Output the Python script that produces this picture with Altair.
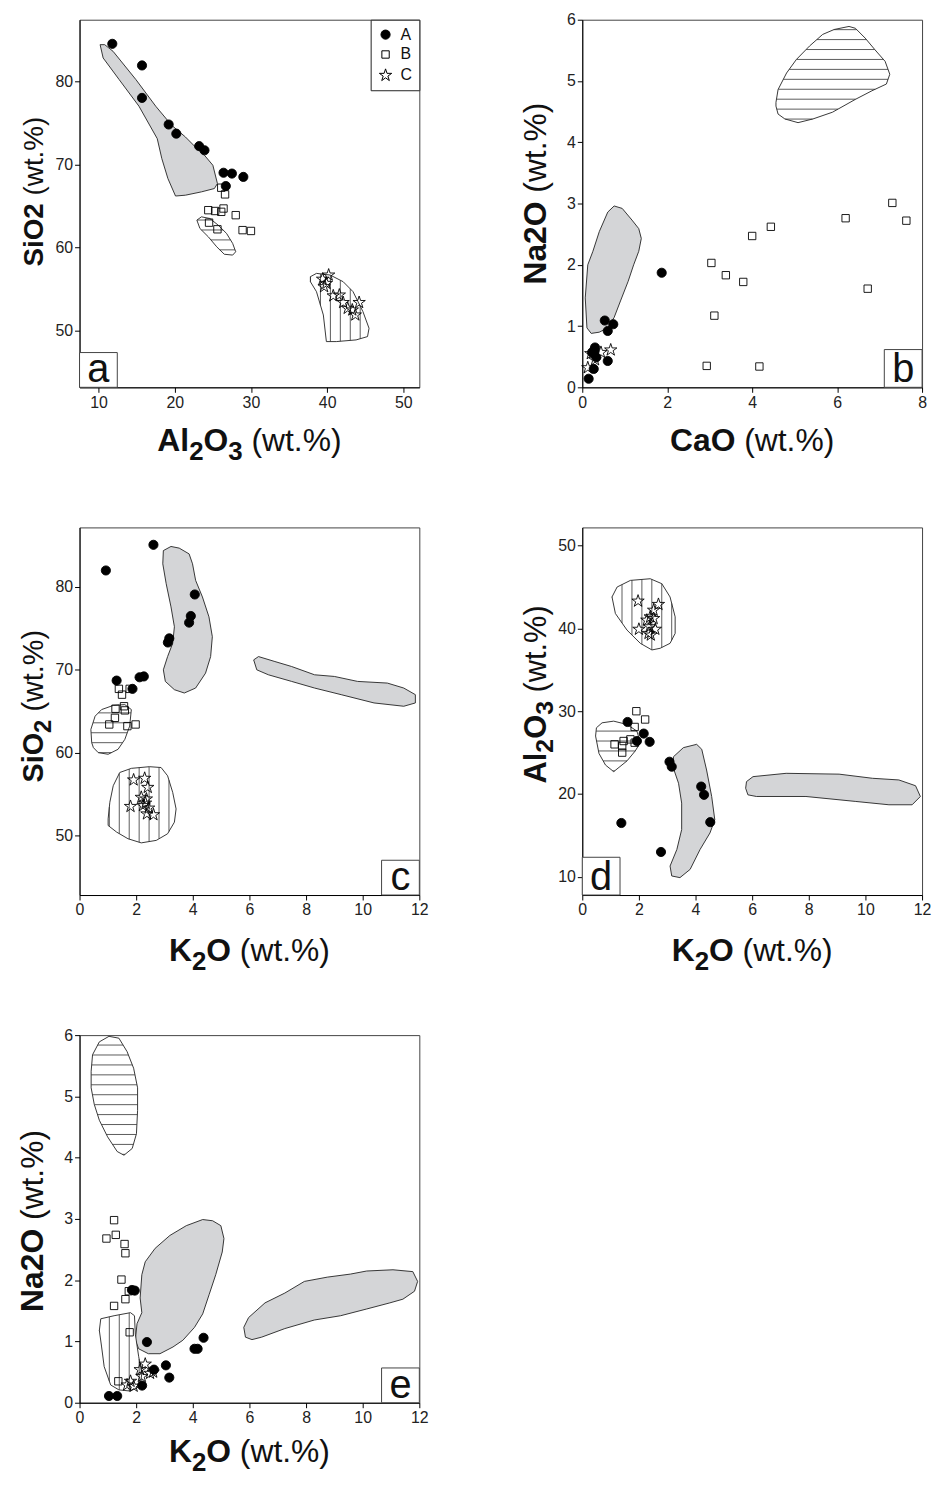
import math
import altair as alt
import pandas as pd

FONT = "Liberation Sans"
STAR = ("M0,-1L0.2245,-0.309L0.951,-0.309L0.363,0.118L0.588,0.809L0,0.382"
        "L-0.588,0.809L-0.363,0.118L-0.951,-0.309L-0.2245,-0.309Z")
GRAY = "#d4d5d7"
EDGE = "#222222"
W, H = 342, 370

# ---------------- panel a : Al2O3 vs SiO2 ----------------
a_A_x = [11.8, 15.7, 15.7, 19.2, 20.2, 23.2, 23.9, 26.4, 27.5, 29.0, 26.7]
a_A_y = [84.5, 81.9, 78.0, 74.8, 73.7, 72.2, 71.7, 69.0, 68.9, 68.5, 67.4]
a_B_x = [26.1, 26.6, 24.4, 25.3, 26.4, 26.1, 28.0, 24.5, 25.6, 28.9, 30.0]
a_B_y = [67.2, 66.4, 64.5, 64.4, 64.7, 64.3, 63.9, 63.0, 62.2, 62.1, 62.0]
a_C_x = [40.2, 39.4, 39.9, 39.6, 40.8, 41.6, 42.1, 42.7, 44.2, 43.7, 43.3]
a_C_y = [56.7, 56.2, 55.7, 55.3, 54.2, 54.3, 53.4, 52.7, 53.4, 51.9, 52.5]
a_gray_x = [10.2, 10.6, 12.7, 15.3, 17.7, 18.3, 19.1, 20.1, 21.4, 23.5, 25.2, 25.6, 25.0,
            23.9, 22.7, 21.4, 19.6, 17.5, 14.9, 11.9, 10.8]
a_gray_y = [84.4, 82.8, 80.2, 77.0, 73.1, 70.7, 68.3, 66.2, 66.3, 66.7, 67.1, 67.7, 69.9,
            71.1, 72.1, 73.3, 74.7, 77.0, 80.2, 83.6, 84.4]
a_hh_x = [22.9, 23.5, 24.6, 25.7, 26.8, 27.6, 28.0, 27.6, 26.5, 25.5, 24.4, 23.3]
a_hh_y = [63.3, 63.7, 63.5, 62.7, 61.7, 60.5, 59.5, 59.1, 59.2, 60.1, 61.3, 62.3]
a_vh_x = [37.8, 38.6, 40.4, 42.1, 43.4, 44.7, 45.5, 45.3, 43.8, 41.2, 39.9, 39.5, 38.6, 37.8]
a_vh_y = [56.5, 56.9, 56.7, 55.9, 54.7, 52.3, 50.3, 49.3, 48.9, 48.7, 48.7, 51.9, 54.7, 55.9]

# ---------------- panel b : CaO vs Na2O ----------------
b_A_x = [0.15, 0.27, 0.29, 0.33, 0.23, 0.30, 0.60, 0.53, 0.60, 0.73, 1.87]
b_A_y = [0.14, 0.30, 0.59, 0.49, 0.57, 0.65, 0.43, 1.09, 0.92, 1.03, 1.87]
b_B_x = [3.04, 3.38, 3.79, 3.11, 4.00, 4.44, 6.20, 7.30, 7.63, 6.72, 2.93, 4.17]
b_B_y = [2.03, 1.83, 1.72, 1.17, 2.47, 2.62, 2.76, 3.01, 2.72, 1.61, 0.35, 0.34]
b_C_x = [0.13, 0.20, 0.44, 0.67, 0.30]
b_C_y = [0.32, 0.55, 0.57, 0.61, 0.45]
b_gray_x = [0.21, 0.11, 0.07, 0.13, 0.25, 0.40, 0.60, 0.75, 0.94, 1.17, 1.33, 1.39, 1.33,
            1.21, 1.08, 0.90, 0.75, 0.60, 0.40]
b_gray_y = [0.88, 0.97, 1.46, 2.00, 2.22, 2.54, 2.86, 2.96, 2.92, 2.73, 2.59, 2.43, 2.22,
            2.00, 1.73, 1.41, 1.14, 0.97, 0.90]
b_hh_x = [4.56, 4.61, 4.81, 5.04, 5.35, 5.66, 5.93, 6.28, 6.43, 6.66, 6.89, 7.13, 7.24,
          7.16, 6.82, 6.43, 5.89, 5.43, 5.08, 4.77, 4.61, 4.56]
b_hh_y = [4.65, 4.86, 5.13, 5.35, 5.57, 5.76, 5.84, 5.89, 5.86, 5.70, 5.51, 5.32, 5.11,
          4.95, 4.84, 4.70, 4.49, 4.38, 4.32, 4.38, 4.46, 4.59]

# ---------------- panel c : K2O vs SiO2 ----------------
c_A_x = [2.61, 0.93, 4.07, 3.93, 3.87, 3.17, 3.12, 1.31, 2.12, 2.27, 1.87]
c_A_y = [85.1, 82.0, 79.1, 76.5, 75.7, 73.8, 73.3, 68.7, 69.1, 69.2, 67.7]
c_B_x = [1.39, 1.50, 1.77, 1.27, 1.57, 1.60, 1.25, 1.05, 1.69, 1.98]
c_B_y = [67.7, 67.0, 67.7, 65.3, 65.6, 65.1, 64.2, 63.4, 63.2, 63.4]
c_C_x = [1.91, 2.30, 2.41, 2.18, 2.36, 1.80, 2.24, 2.44, 2.38, 2.61, 2.33]
c_C_y = [56.7, 56.9, 55.8, 54.6, 54.4, 53.5, 53.6, 53.3, 52.6, 52.5, 53.9]
c_gray1_x = [2.96, 3.23, 3.52, 3.87, 3.99, 4.10, 4.34, 4.57, 4.69, 4.63, 4.45, 4.10, 3.70,
             3.35, 3.03, 2.96, 3.11, 3.29, 3.35, 3.23, 3.06, 2.94]
c_gray1_y = [84.4, 84.9, 84.7, 84.0, 82.8, 80.8, 78.8, 76.4, 74.0, 71.6, 69.6, 67.8, 67.2,
             67.6, 68.6, 70.0, 71.6, 73.2, 75.2, 77.6, 80.4, 82.8]
c_gray2_x = [6.15, 6.32, 6.90, 7.49, 8.30, 9.00, 9.82, 10.87, 11.45, 11.86, 11.86, 11.45,
             10.40, 9.24, 8.30, 7.49, 6.67, 6.26]
c_gray2_y = [71.2, 71.6, 71.0, 70.4, 69.4, 69.2, 68.6, 68.4, 67.8, 67.0, 66.0, 65.6,
             66.0, 67.0, 67.8, 68.6, 69.4, 70.0]
c_hh_x = [0.43, 0.40, 0.55, 0.78, 1.19, 1.60, 1.83, 1.77, 1.60, 1.36, 1.01, 0.66, 0.49]
c_hh_y = [61.2, 62.8, 64.4, 65.2, 65.7, 65.8, 65.2, 63.2, 61.6, 60.4, 59.8, 60.0, 60.6]
c_vh_x = [1.01, 1.07, 1.19, 1.42, 1.83, 2.47, 2.88, 3.11, 3.29, 3.41, 3.35, 3.11, 2.71,
          2.18, 1.71, 1.31, 1.01]
c_vh_y = [52.0, 54.0, 56.0, 57.6, 58.1, 58.3, 58.2, 57.2, 55.2, 53.2, 51.6, 50.2, 49.4,
          49.1, 49.6, 50.4, 51.2]

# ---------------- panel d : K2O vs Al2O3 ----------------
d_A_x = [1.60, 2.17, 1.93, 2.38, 3.08, 3.16, 4.20, 4.30, 4.52, 1.38, 2.78]
d_A_y = [28.7, 27.3, 26.4, 26.3, 23.9, 23.3, 20.9, 19.9, 16.6, 16.5, 13.0]
d_B_x = [1.91, 2.22, 1.85, 1.14, 1.46, 1.70, 1.85, 1.41, 1.41]
d_B_y = [30.0, 29.0, 28.1, 26.0, 26.4, 26.6, 26.2, 25.8, 25.0]
d_C_x = [1.97, 2.69, 2.52, 2.40, 2.28, 2.52, 2.38, 2.00, 2.34, 2.58, 2.42]
d_C_y = [43.3, 42.9, 42.2, 41.4, 41.0, 41.2, 40.2, 39.9, 39.4, 39.9, 39.2]
d_vh_x = [1.05, 1.23, 1.70, 2.40, 2.81, 3.10, 3.28, 3.28, 3.10, 2.75, 2.46, 2.05, 1.58, 1.17]
d_vh_y = [43.8, 45.0, 45.8, 46.0, 45.4, 43.8, 41.4, 39.4, 38.2, 37.6, 37.4, 38.2, 39.8, 41.8]
d_hh_x = [0.47, 0.50, 0.70, 1.11, 1.58, 1.93, 2.05, 1.87, 1.58, 1.11, 0.82, 0.59]
d_hh_y = [27.0, 28.0, 28.6, 28.8, 28.4, 27.6, 26.2, 25.2, 24.0, 22.7, 23.5, 24.9]
d_gray1_x = [3.22, 3.57, 4.04, 4.22, 4.39, 4.57, 4.68, 4.51, 4.16, 3.81, 3.45, 3.16, 3.10,
             3.34, 3.51, 3.51, 3.40, 3.22]
d_gray1_y = [24.5, 25.6, 26.0, 25.4, 22.9, 19.7, 16.9, 15.3, 13.3, 10.9, 9.9, 10.1, 11.3,
             13.3, 15.7, 18.9, 21.3, 23.1]
d_gray2_x = [5.80, 6.03, 7.20, 9.07, 10.25, 11.18, 11.77, 11.94, 11.65, 10.83, 9.66, 7.90,
             6.15, 5.85, 5.77]
d_gray2_y = [21.5, 22.1, 22.5, 22.4, 21.9, 21.7, 21.0, 19.7, 18.7, 18.7, 19.1, 19.7,
             19.7, 19.9, 20.7]

# ---------------- panel e : K2O vs Na2O ----------------
e_A_x = [1.85, 1.95, 2.38, 4.06, 4.17, 4.38, 3.05, 2.63, 3.17, 2.21, 1.04, 1.33]
e_A_y = [1.84, 1.83, 0.99, 0.88, 0.88, 1.06, 0.61, 0.54, 0.41, 0.28, 0.11, 0.11]
e_B_x = [1.22, 1.28, 0.95, 1.59, 1.62, 1.48, 1.74, 1.62, 1.22, 1.77, 1.37]
e_B_y = [2.98, 2.74, 2.68, 2.59, 2.44, 2.01, 1.82, 1.69, 1.58, 1.15, 0.35]
e_C_x = [2.32, 2.14, 2.49, 2.20, 1.80, 1.91, 1.68, 2.60]
e_C_y = [0.63, 0.54, 0.48, 0.43, 0.35, 0.27, 0.29, 0.50]
e_hh_x = [0.41, 0.46, 0.70, 1.04, 1.39, 1.68, 1.91, 2.05, 2.05, 2.01, 1.86, 1.57, 1.33,
          0.99, 0.70, 0.52, 0.41]
e_hh_y = [5.41, 5.68, 5.89, 5.98, 5.95, 5.73, 5.46, 5.14, 4.77, 4.39, 4.15, 4.04, 4.10,
          4.34, 4.61, 4.87, 5.14]
e_vh_x = [0.75, 1.22, 1.80, 1.94, 1.97, 2.09, 2.20, 2.14, 1.80, 1.39, 1.10, 0.87, 0.78, 0.70]
e_vh_y = [1.37, 1.42, 1.47, 1.42, 1.12, 0.75, 0.48, 0.27, 0.19, 0.21, 0.29, 0.59, 0.91, 1.18]
e_gray1_x = [1.97, 2.03, 2.20, 2.14, 2.20, 2.32, 2.67, 3.19, 3.77, 4.35, 4.70, 4.99, 5.10,
             5.04, 4.81, 4.58, 4.35, 4.06, 3.65, 3.30, 2.84, 2.43, 2.09]
e_gray1_y = [1.02, 1.29, 1.47, 1.71, 2.09, 2.30, 2.52, 2.73, 2.89, 2.99, 2.97, 2.89, 2.68,
             2.46, 2.09, 1.77, 1.45, 1.23, 1.02, 0.91, 0.80, 0.80, 0.88]
e_gray2_x = [5.86, 5.80, 5.97, 6.55, 7.25, 7.94, 8.75, 9.57, 10.14, 11.07, 11.77, 11.94,
             11.83, 11.42, 10.96, 10.14, 9.22, 8.29, 7.25, 6.43, 6.09]
e_gray2_y = [1.07, 1.23, 1.39, 1.63, 1.79, 1.98, 2.05, 2.10, 2.15, 2.17, 2.14, 1.98,
             1.82, 1.69, 1.63, 1.53, 1.42, 1.35, 1.21, 1.07, 1.03]

GROUPS = ["A", "B", "C"]

# ---------------- helpers ----------------
REG_W = {" ": 278, "(": 333, ")": 333, "w": 722, "t": 278, ".": 278, "%": 889}
BOLD_W = {"A": 722, "l": 278, "O": 778, "S": 667, "i": 278, "N": 722, "a": 556,
          "C": 722, "K": 722}


def text_width(txt, bold, size):
    table = BOLD_W if bold else REG_W
    return sum(table.get(ch, 556) for ch in txt) / 1000.0 * size


ONE = alt.Data(values=[{"k": 1}])


def title_layers(parts, x, y, angle, fs):
    # parts: (text, bold, subscript, gap-before in em)
    sub_fs, sub_dy = round(fs * 0.82), round(fs * 0.27)
    sizes = [sub_fs if p[2] else fs for p in parts]
    widths = [text_width(p[0], p[1], s) + p[3] * fs for p, s in zip(parts, sizes)]
    pos = -sum(widths) / 2.0
    out = []
    for p, s, w in zip(parts, sizes, widths):
        t, b, sub, gap = p
        kw = dict(text=t, font=FONT, fontSize=s, fontWeight="bold" if b else "normal",
                  align="left", baseline="alphabetic", dx=pos + gap * fs,
                  dy=sub_dy if sub else 0, color="#111111")
        if angle:
            kw["angle"] = angle
        out.append(alt.Chart(ONE).mark_text(**kw).encode(x=alt.value(x), y=alt.value(y)))
        pos += w
    return out


def hatch_rows(xs, ys, step, vertical):
    u, v = (xs, ys) if vertical else (ys, xs)
    n = len(u)
    rows = []
    k = math.floor(min(u) / step) + 1
    while k * step < max(u):
        c = k * step
        cuts = []
        for i in range(n):
            u1, v1, u2, v2 = u[i], v[i], u[(i + 1) % n], v[(i + 1) % n]
            if (u1 - c) * (u2 - c) < 0:
                cuts.append(v1 + (c - u1) * (v2 - v1) / (u2 - u1))
        cuts.sort()
        for j in range(0, len(cuts) - 1, 2):
            if vertical:
                rows.append({"x": c, "x2": c, "y": cuts[j], "y2": cuts[j + 1]})
            else:
                rows.append({"x": cuts[j], "x2": cuts[j + 1], "y": c, "y2": c})
        k += 1
    return rows


AX = dict(title=None, grid=False, tickSize=5, tickColor="black", domainColor="black",
          domainWidth=1, tickWidth=1, labelFont=FONT, labelFontSize=16, labelColor="#222222",
          labelPadding=2, format="d", labelFlush=False)


def panel(xdom, ydom, xticks, yticks, pts, grays, hh, vh, letter, letter_right, tall,
          xparts, yparts, xt_off, yt_shift, yfs, legend):
    xs = alt.Scale(domain=xdom, nice=False, zero=False)
    ys = alt.Scale(domain=ydom, nice=False, zero=False)
    X = alt.X("x:Q", scale=xs, axis=alt.Axis(values=xticks, **AX))
    Y = alt.Y("y:Q", scale=ys, axis=alt.Axis(values=yticks, **AX))
    layers = []

    def poly_df(polys):
        rows = []
        for pid, (px, py) in enumerate(polys):
            for i, (a, b) in enumerate(zip(px, py)):
                rows.append({"pid": pid, "ord": i, "x": a, "y": b})
        return pd.DataFrame(rows)

    if grays:
        layers.append(alt.Chart(poly_df(grays)).mark_line(
            interpolate="linear-closed", fill=GRAY, stroke=EDGE, strokeWidth=0.9
        ).encode(x=X, y=Y, detail="pid:N", order="ord:Q"))
    hatched = hh + vh
    if hatched:
        layers.append(alt.Chart(poly_df(hatched)).mark_line(
            interpolate="linear-closed", fill="white", stroke=EDGE, strokeWidth=0.9
        ).encode(x=X, y=Y, detail="pid:N", order="ord:Q"))
        hstep = 10.0 * (ydom[1] - ydom[0]) / H
        vstep = 10.0 * (xdom[1] - xdom[0]) / W
        rows = []
        for px, py in hh:
            rows += hatch_rows(px, py, hstep, False)
        for px, py in vh:
            rows += hatch_rows(px, py, vstep, True)
        layers.append(alt.Chart(pd.DataFrame(rows)).mark_rule(
            stroke="#333333", strokeWidth=0.8
        ).encode(x=X, x2="x2:Q", y=Y, y2="y2:Q"))

    prow = []
    for g in ["C", "B", "A"]:
        gx, gy = pts[g]
        for a, b in zip(gx, gy):
            prow.append({"x": a, "y": b, "g": g})
    leg = None
    if legend:
        leg = alt.Legend(orient="top-right", title=None, offset=0, padding=7,
                         strokeColor="#222222", fillColor="white", labelFont=FONT,
                         labelFontSize=16, labelColor="#111111", symbolStrokeWidth=1,
                         symbolOpacity=1, rowPadding=4, labelOffset=7, cornerRadius=0)
    layers.append(alt.Chart(pd.DataFrame(prow)).mark_point(
        filled=True, opacity=1, strokeWidth=0.9
    ).encode(
        x=X, y=Y,
        shape=alt.Shape("g:N", scale=alt.Scale(domain=GROUPS, range=["circle", "square", STAR]),
                        legend=leg),
        fill=alt.Fill("g:N", scale=alt.Scale(domain=GROUPS,
                                             range=["black", "transparent", "transparent"]),
                      legend=leg),
        stroke=alt.Stroke("g:N", scale=alt.Scale(domain=GROUPS,
                                                 range=["black", "black", "black"]),
                          legend=leg),
        size=alt.Size("g:N", scale=alt.Scale(type="ordinal", domain=GROUPS,
                                             range=[85, 55, 170]), legend=leg),
    ))

    bw, bh = 38, (38 if tall else 35)
    x0 = W - bw if letter_right else 0
    layers.append(alt.Chart(ONE).mark_rect(fill="white", stroke="#444444", strokeWidth=1).encode(
        x=alt.value(x0), x2=alt.value(x0 + bw), y=alt.value(H - bh), y2=alt.value(H)))
    layers.append(alt.Chart(ONE).mark_text(
        text=letter, font=FONT, fontSize=40, align="center", baseline="alphabetic",
        color="#111111").encode(x=alt.value(x0 + bw / 2), y=alt.value(H - 5)))

    layers += title_layers(xparts, W / 2, H + xt_off, 0, 32)
    layers += title_layers(yparts, -37, H / 2 + yt_shift, 270, yfs)
    return alt.layer(*layers).properties(width=W, height=H)


WT = ("(wt.%)", False, False, 0.278)
K2O = [("K", True, False, 0), ("2", True, True, 0), ("O", True, False, 0), WT]
AL2O3 = [("Al", True, False, 0), ("2", True, True, 0), ("O", True, False, 0),
         ("3", True, True, 0), WT]

pa = panel([7.5, 52.1], [43.2, 87.4], [10, 20, 30, 40, 50], [50, 60, 70, 80],
           {"A": (a_A_x, a_A_y), "B": (a_B_x, a_B_y), "C": (a_C_x, a_C_y)},
           [(a_gray_x, a_gray_y)], [(a_hh_x, a_hh_y)], [(a_vh_x, a_vh_y)],
           "a", False, False, AL2O3, [("SiO2", True, False, 0), WT], 64, -12, 28, True)
pb = panel([0, 8], [0, 6], [0, 2, 4, 6, 8], [0, 1, 2, 3, 4, 5, 6],
           {"A": (b_A_x, b_A_y), "B": (b_B_x, b_B_y), "C": (b_C_x, b_C_y)},
           [(b_gray_x, b_gray_y)], [(b_hh_x, b_hh_y)], [],
           "b", True, True,
           [("CaO", True, False, 0), WT], [("Na2O", True, False, 0), WT], 64, -10, 32, False)
pc = panel([0, 12], [42.8, 87.2], [0, 2, 4, 6, 8, 10, 12], [50, 60, 70, 80],
           {"A": (c_A_x, c_A_y), "B": (c_B_x, c_B_y), "C": (c_C_x, c_C_y)},
           [(c_gray1_x, c_gray1_y), (c_gray2_x, c_gray2_y)], [(c_hh_x, c_hh_y)],
           [(c_vh_x, c_vh_y)], "c", True, False, K2O,
           [("SiO", True, False, 0), ("2", True, True, 0), WT], 66, -5, 29, False)
pd_ = panel([0, 12], [7.8, 52.2], [0, 2, 4, 6, 8, 10, 12], [10, 20, 30, 40, 50],
            {"A": (d_A_x, d_A_y), "B": (d_B_x, d_B_y), "C": (d_C_x, d_C_y)},
            [(d_gray1_x, d_gray1_y), (d_gray2_x, d_gray2_y)], [(d_hh_x, d_hh_y)],
            [(d_vh_x, d_vh_y)], "d", False, True, K2O, AL2O3, 66, -17, 31, False)
pe = panel([0, 12], [0, 6], [0, 2, 4, 6, 8, 10, 12], [0, 1, 2, 3, 4, 5, 6],
           {"A": (e_A_x, e_A_y), "B": (e_B_x, e_B_y), "C": (e_C_x, e_C_y)},
           [(e_gray1_x, e_gray1_y), (e_gray2_x, e_gray2_y)], [(e_hh_x, e_hh_y)],
           [(e_vh_x, e_vh_y)], "e", True, False, K2O, [("Na2O", True, False, 0), WT],
           60, 2, 32, False)

chart = alt.concat(
    pa, pb, pc, pd_, pe, columns=2, spacing={"row": 141, "column": 164}, bounds="flush"
).resolve_scale(
    shape="independent", fill="independent", stroke="independent", size="independent"
).properties(
    padding={"left": 8, "top": -2, "right": 0, "bottom": 0}
).configure_view(stroke="#444444", strokeWidth=1)

chart.save("out.html", embed_options={"renderer": "svg", "actions": False})
